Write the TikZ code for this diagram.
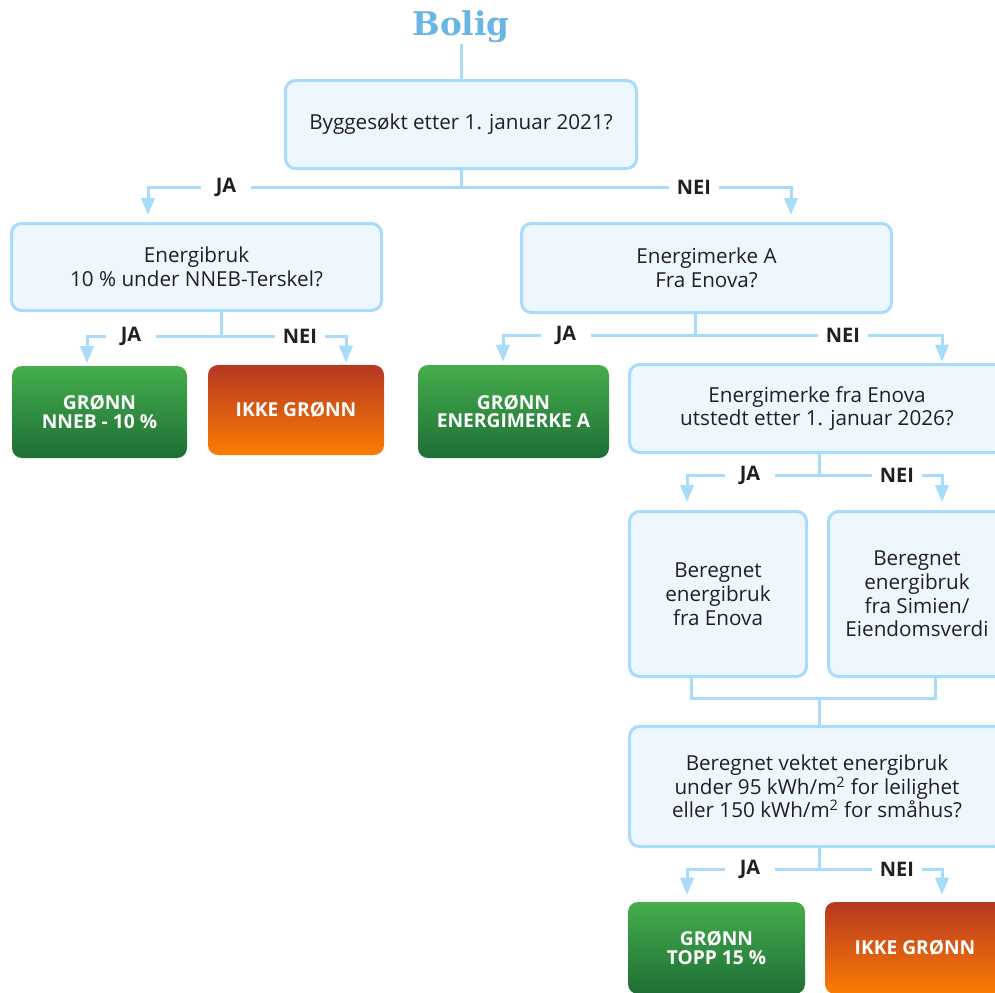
\documentclass[tikz,border=0pt]{standalone}
\usepackage{fontspec}
\setmainfont{Open Sans}
\newfontfamily\titlefont{DejaVu Serif}
\usetikzlibrary{arrows.meta,calc}
\definecolor{lineblue}{HTML}{A9DCFA}
\definecolor{boxfill}{HTML}{EFF7FE}
\definecolor{textdark}{HTML}{231F20}
\definecolor{titleblue}{HTML}{68B6E4}
\definecolor{gtop}{HTML}{45AE4D}
\definecolor{gbot}{HTML}{1E6E35}
\definecolor{otop}{HTML}{B53822}
\definecolor{obot}{HTML}{FC7C02}
\begin{document}
\begin{tikzpicture}[x=0.75pt,y=-0.75pt,
  qbox/.style={draw=lineblue, fill=boxfill, line width=2.25pt, rounded corners=7.5pt, align=center, text=textdark, font=\fontsize{15.5}{17.8}\selectfont, inner sep=0pt},
  gbox/.style={rounded corners=7.5pt, top color=gtop, bottom color=gbot, text=white, font=\bfseries\fontsize{14.4}{13.8}\selectfont, align=center, inner sep=0pt},
  obox/.style={rounded corners=7.5pt, top color=otop, bottom color=obot, text=white, font=\bfseries\fontsize{14.4}{13.8}\selectfont, align=center, inner sep=0pt},
  conn/.style={draw=lineblue, line width=2.25pt},
  arr/.style={conn, -{Triangle[length=12.75pt,width=10pt]}},
  lab/.style={fill=white, text=textdark, font=\bfseries\fontsize{15}{17}\selectfont, minimum width=37.5pt, inner xsep=0pt, inner ysep=1pt}
]
\useasboundingbox (0,0) rectangle (995,992);
\clip (0,0) rectangle (995,992);

% title
\node[anchor=base, inner sep=0pt, text=titleblue, font=\titlefont\bfseries\fontsize{24.5}{28}\selectfont] (title) at (461,36) {Bolig};

% boxes
\node[qbox, minimum width=263.25pt, minimum height=66pt] (top) at (461,124.5) {Byggesøkt etter 1. januar 2021?};
\node[qbox, minimum width=277.5pt, minimum height=65.25pt] (q1) at (196.5,267) {Energibruk\\10 \% under NNEB-Terskel?};
\node[qbox, minimum width=277.5pt, minimum height=66.75pt] (q2) at (706.5,268) {Energimerke A\\Fra Enova?};
\node[gbox, minimum width=131.25pt, minimum height=69pt] (g1) at (99.5,412) {GRØNN\\NNEB - 10 \%};
\node[obox, minimum width=132pt, minimum height=67.5pt] (o1) at (296,410) {IKKE GRØNN};
\node[gbox, minimum width=143.25pt, minimum height=69.75pt] (g2) at (513.5,411.5) {GRØNN\\ENERGIMERKE A};
\node[qbox, minimum width=281.25pt, minimum height=66pt] (q3) at (817,408.5) {Energimerke fra Enova\\utstedt etter 1. januar 2026?};
\node[qbox, minimum width=132.75pt, minimum height=123.75pt] (b1) at (718,594) {Beregnet\\energibruk\\fra Enova};
\node[qbox, minimum width=132.75pt, minimum height=123.75pt] (b2) at (917,594) {Beregnet\\energibruk\\fra Simien/\\Eiendomsverdi};
\node[qbox, minimum width=281.25pt, minimum height=90pt] (q4) at (817,786.5) {Beregnet vektet energibruk\\under 95 kWh/m\textsuperscript{2} for leilighet\\eller 150 kWh/m\textsuperscript{2} for småhus?};
\node[gbox, minimum width=132.75pt, minimum height=69pt] (g3) at (716.5,948) {GRØNN\\TOPP 15 \%};
\node[obox, minimum width=135pt, minimum height=69pt] (o2) at (915,948) {IKKE GRØNN};

% title connector
\draw[conn] (title.south) -- (top.north);

% row 1
\coordinate (t1) at (148,187);
\coordinate (t2) at (791,187);
\draw[arr, shorten >=5.25pt] (top.south) |- (t1) -- (t1 |- q1.north);
\draw[arr, shorten >=5.25pt] (top.south) |- (t2) -- (t2 |- q2.north);
\node[lab] (l1) at (226,187) {JA};
\node[lab] (l2) at (694,187) {NEI};

% row 2
\coordinate (c1) at (221,336);
\coordinate (a1) at (87,336);
\coordinate (a2) at (346,336);
\draw[arr, shorten >=2pt] (c1 |- q1.south) -- (c1) -- (a1) -- (a1 |- g1.north);
\draw[arr, shorten >=1.5pt] (c1) -- (a2) -- (a2 |- o1.north);
\node[lab] (l3) at (131,336) {JA};
\node[lab] (l4) at (300,336) {NEI};

% row 3
\coordinate (c2) at (695,335);
\coordinate (a3) at (503,335);
\coordinate (a4) at (942,335);
\draw[arr, shorten >=2.25pt] (c2 |- q2.south) -- (c2) -- (a3) -- (a3 |- g2.north);
\draw[arr, shorten >=1pt] (c2) -- (a4) -- (a4 |- q3.north);
\node[lab] (l5) at (566,335) {JA};
\node[lab] (l6) at (843,335) {NEI};

% row 4
\coordinate (c3) at (819,475);
\coordinate (a5) at (687,475);
\coordinate (a6) at (942,475);
\draw[arr, shorten >=6pt] (c3 |- q3.south) -- (c3) -- (a5) -- (a5 |- b1.north);
\draw[arr, shorten >=6pt] (c3) -- (a6) -- (a6 |- b2.north);
\node[lab] (l7) at (750,475) {JA};
\node[lab] (l8) at (897,475) {NEI};

% join
\coordinate (j1) at (691,698);
\coordinate (j2) at (935,698);
\coordinate (j3) at (819,698);
\draw[conn] (j1 |- b1.south) -- (j1) -- (j2) -- (j2 |- b2.south);
\draw[conn] (j3) -- (j3 |- q4.north);

% row 5
\coordinate (c4) at (819,869);
\coordinate (a7) at (687,869);
\coordinate (a8) at (942,869);
\draw[arr, shorten >=5.25pt] (c4 |- q4.south) -- (c4) -- (a7) -- (a7 |- g3.north);
\draw[arr, shorten >=5.25pt] (c4) -- (a8) -- (a8 |- o2.north);
\node[lab] (l9) at (750,869) {JA};
\node[lab] (l10) at (897,869) {NEI};
\end{tikzpicture}
\end{document}
